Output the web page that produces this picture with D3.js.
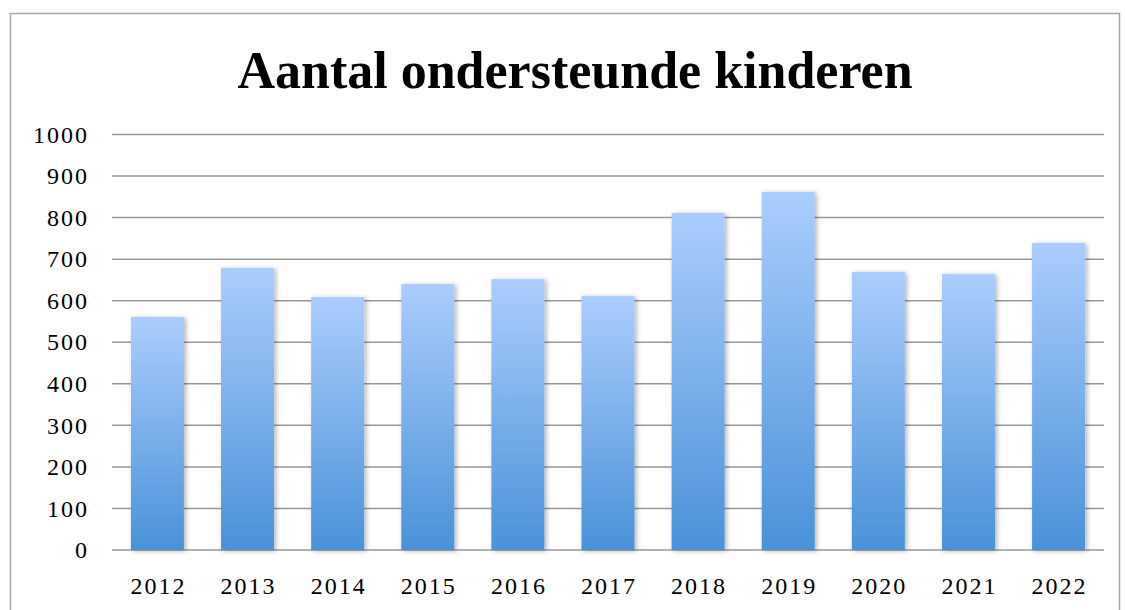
<!DOCTYPE html>
<html>
<head>
<meta charset="utf-8">
<script src="https://cdn.jsdelivr.net/npm/d3@7"></script>
<style>
  body { margin: 0; background: #fff; }
  svg { display: block; }
</style>
</head>
<body>
<svg id="chart" width="1125" height="610"></svg>
<script>
const years = ["2012", "2013", "2014", "2015", "2016", "2017", "2018", "2019", "2020", "2021", "2022"];
const counts = [561, 679, 609, 640, 652, 611, 811, 862, 669, 664, 739];
const yTicks = [0, 100, 200, 300, 400, 500, 600, 700, 800, 900, 1000];
const title = "Aantal ondersteunde kinderen";

const svg = d3.select("#chart");
const margin = { top: 134.5, right: 21, bottom: 60, left: 112 };
const width = 1125, height = 610;

// outer frame
svg.append("rect")
    .attr("x", 10.5).attr("y", 13.5)
    .attr("width", 1109).attr("height", 620)
    .attr("fill", "none")
    .attr("stroke", "#a6a6a6")
    .attr("stroke-width", 1.5);

const defs = svg.append("defs");
const grad = defs.append("linearGradient")
    .attr("id", "barGrad")
    .attr("x1", 0).attr("y1", 0).attr("x2", 0).attr("y2", 1);
grad.append("stop").attr("offset", "0%").attr("stop-color", "#abcdfd");
grad.append("stop").attr("offset", "100%").attr("stop-color", "#4a92d8");

const shadow = defs.append("filter").attr("id", "shadow")
    .attr("x", "-20%").attr("y", "-5%").attr("width", "150%").attr("height", "115%");
shadow.append("feDropShadow")
    .attr("dx", 2).attr("dy", 1).attr("stdDeviation", 2.5)
    .attr("flood-color", "#000").attr("flood-opacity", 0.3);

const x = d3.scaleBand()
    .domain(years)
    .range([margin.left, width - margin.right])
    .paddingInner(0.412)
    .paddingOuter(0.21);

const y = d3.scaleLinear()
    .domain([0, 1000])
    .range([height - margin.bottom, margin.top]);

// gridlines
svg.append("g")
    .selectAll("line")
    .data(yTicks)
    .join("line")
    .attr("x1", margin.left)
    .attr("x2", width - margin.right)
    .attr("y1", d => y(d))
    .attr("y2", d => y(d))
    .attr("stroke", "#999")
    .attr("stroke-width", 1.5);

// bars
svg.append("g")
    .selectAll("rect")
    .data(years)
    .join("rect")
    .attr("x", d => x(d))
    .attr("y", (d, i) => y(counts[i]))
    .attr("width", x.bandwidth())
    .attr("height", (d, i) => y(0) - y(counts[i]))
    .attr("fill", "url(#barGrad)")
    .attr("filter", "url(#shadow)");

// y axis labels
const yAxis = svg.append("g")
    .attr("transform", `translate(${margin.left},0)`)
    .call(d3.axisLeft(y).tickValues(yTicks).tickFormat(d3.format("d")).tickSize(0).tickPadding(23));
yAxis.select(".domain").remove();
yAxis.selectAll("text")
    .attr("font-family", "'Liberation Serif', serif")
    .attr("font-size", 24)
    .attr("letter-spacing", 2)
    .attr("fill", "#000");

// x axis labels
const xAxis = svg.append("g")
    .attr("transform", `translate(1,${y(0)})`)
    .call(d3.axisBottom(x).tickSize(0).tickPadding(27));
xAxis.select(".domain").remove();
xAxis.selectAll("text")
    .attr("font-family", "'Liberation Serif', serif")
    .attr("font-size", 24)
    .attr("letter-spacing", 2)
    .attr("fill", "#000");

svg.append("text")
    .attr("x", 575)
    .attr("y", 88)
    .attr("text-anchor", "middle")
    .attr("font-family", "'Liberation Serif', serif")
    .attr("font-weight", "bold")
    .attr("font-size", 52)
    .attr("fill", "#000")
    .text(title);
</script>
</body>
</html>
